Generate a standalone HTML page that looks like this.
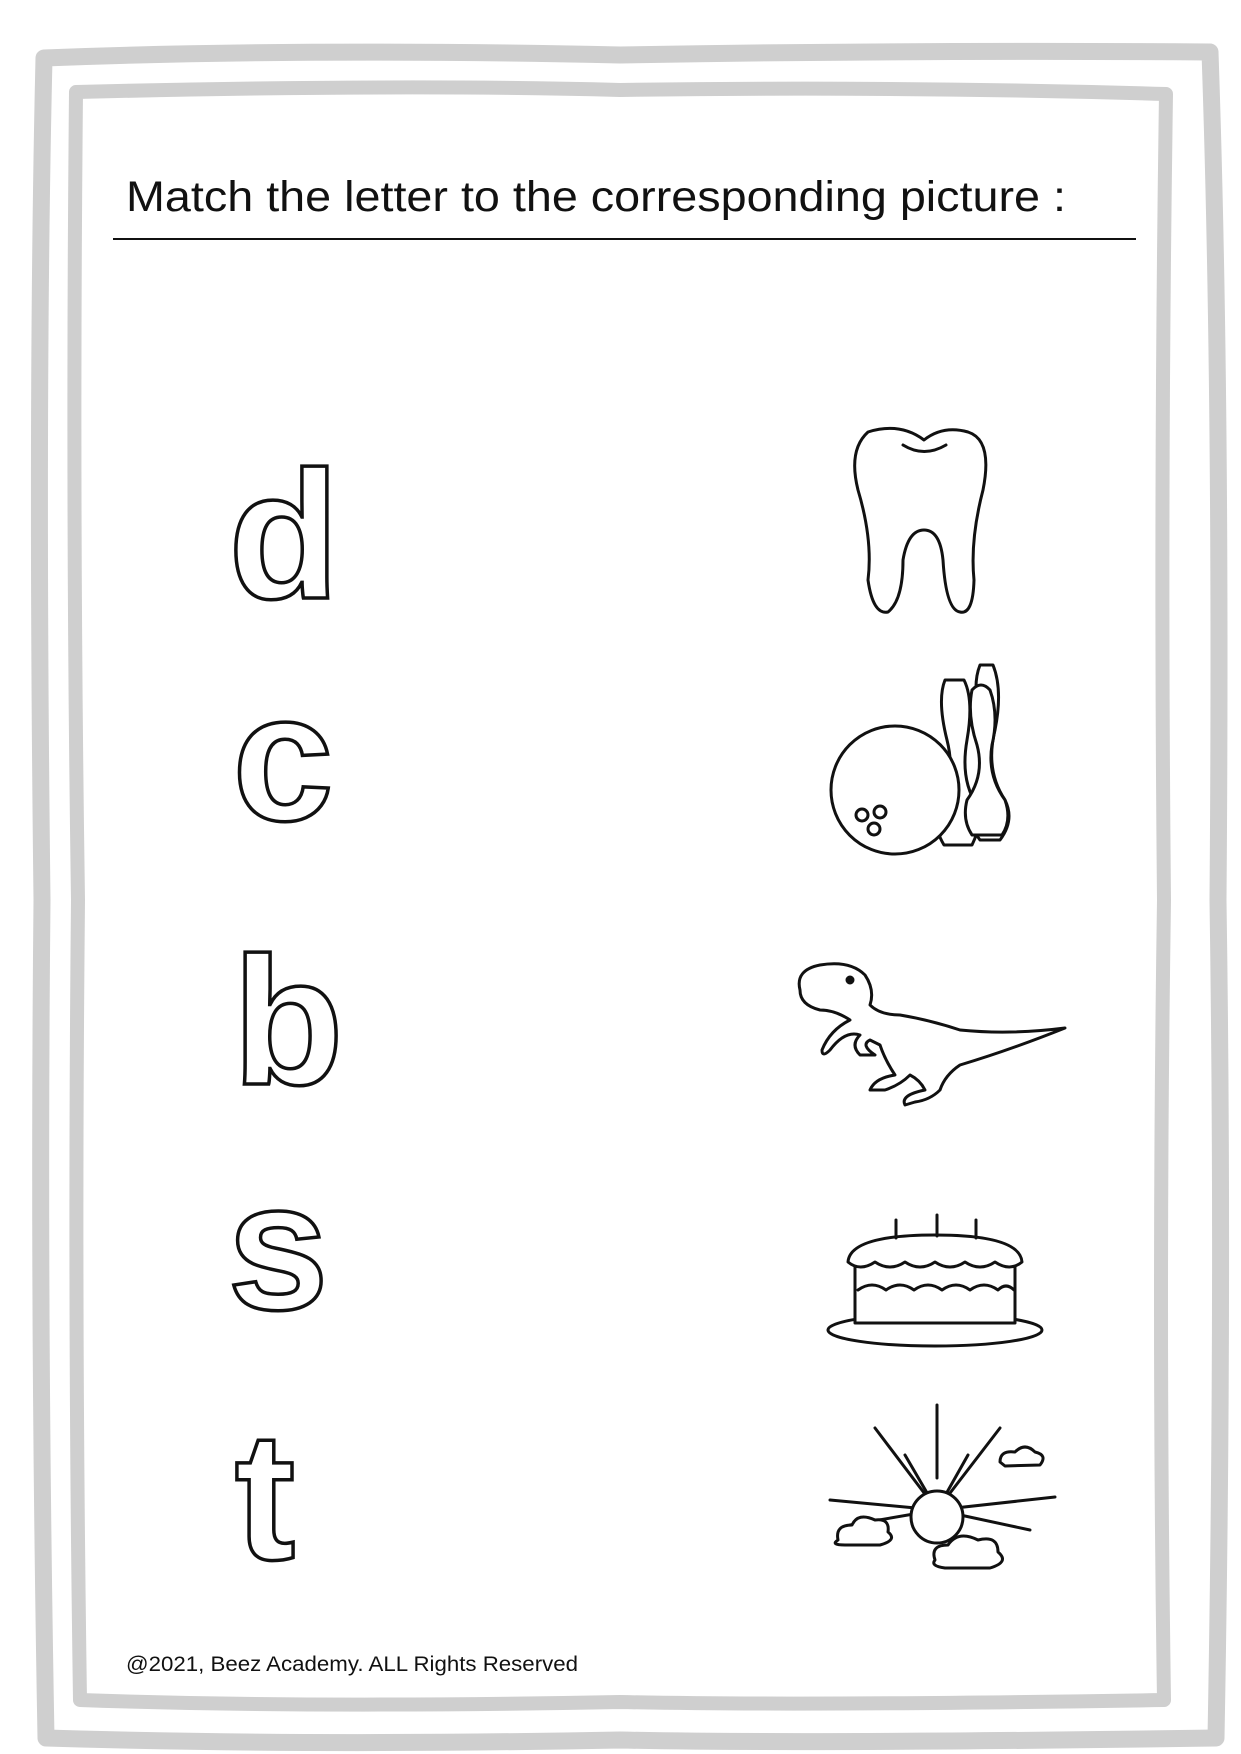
<!DOCTYPE html>
<html><head><meta charset="utf-8"><style>
html,body{margin:0;padding:0;background:#fff}
body{width:1241px;height:1754px;position:relative;overflow:hidden;font-family:"Liberation Sans",sans-serif}
svg{position:absolute;left:0;top:0}
</style></head><body>
<svg width="1241" height="1754" viewBox="0 0 1241 1754">
<g fill="none" stroke="#cfcfcf" stroke-width="17" stroke-linejoin="round">
<path d="M44 58 Q300 48 620 55 Q900 50 1210 52 Q1222 400 1218 900 Q1224 1300 1216 1738 Q800 1744 620 1740 Q300 1746 46 1738 Q38 1300 42 900 Q36 400 44 58 Z"/>
</g>
<g fill="none" stroke="#cfcfcf" stroke-width="14" stroke-linejoin="round">
<path d="M76 92 Q400 84 620 90 Q900 86 1166 94 Q1160 500 1164 900 Q1158 1300 1164 1700 Q800 1706 620 1702 Q300 1708 80 1700 Q74 1300 78 900 Q72 500 76 92 Z"/>
</g>
<text x="126" y="211" font-size="43" fill="#111" textLength="940" lengthAdjust="spacingAndGlyphs">Match the letter to the corresponding  picture :</text>
<line x1="113" y1="239" x2="1136" y2="239" stroke="#111" stroke-width="2"/>
<g font-size="182" font-weight="bold" fill="#fff" stroke="#111" stroke-width="3.5" text-anchor="middle" font-family="Liberation Sans, sans-serif">
<text x="284" y="598">d</text>
<text x="283" y="820">c</text>
<text x="288" y="1084">b</text>
<text x="278" y="1309">s</text>
<text x="265" y="1559">t</text>
</g>
<g fill="#fff" stroke="#111" stroke-width="3" stroke-linejoin="round" stroke-linecap="round">
<g>
<path d="M868 432 Q848 450 858 490 Q873 540 868 580 Q873 615 888 612 Q903 600 903 560 Q908 530 924 530 Q940 530 943 560 Q946 610 960 612 Q973 615 974 580 Q970 540 983 490 Q993 440 968 432 Q943 425 924 440 Q900 422 868 432 Z"/>
<path d="M903 445 Q924 458 946 445" fill="none"/>
</g>
<g>
<path d="M980 665 Q970 690 985 730 Q995 770 970 800 Q965 820 980 840 L1000 840 Q1015 820 1005 800 Q985 770 995 730 Q1003 690 993 665 Z"/>
<path d="M945 680 Q937 700 947 740 Q957 780 937 805 Q932 825 944 845 L972 845 Q982 825 977 805 Q960 780 967 740 Q974 700 964 680 Z"/>
<circle cx="895" cy="790" r="64"/>
<circle cx="862" cy="815" r="6"/><circle cx="880" cy="812" r="6"/><circle cx="874" cy="829" r="6"/>
<path d="M972 690 Q967 715 977 745 Q985 775 967 800 Q962 820 972 835 L1002 835 Q1012 820 1005 800 Q987 775 992 745 Q999 715 990 690 Q981 680 972 690 Z"/>
</g>
<g>
<path d="M800 990 Q795 970 820 965 Q850 960 865 975 Q875 990 870 1005 Q880 1015 900 1015 Q930 1020 960 1030 Q1010 1035 1065 1028 Q1010 1050 960 1065 Q945 1075 940 1090 Q930 1100 915 1102 L905 1105 Q900 1095 925 1090 Q920 1080 910 1075 Q900 1085 885 1090 L870 1090 Q875 1078 895 1075 Q885 1060 880 1045 L870 1040 Q860 1045 875 1055 L860 1055 Q850 1045 860 1035 Q845 1030 830 1050 Q822 1058 822 1050 Q830 1030 850 1020 Q835 1010 820 1010 Q800 1005 800 990 Z"/>
<circle cx="850" cy="980" r="3" fill="#111"/>
</g>
<g>
<ellipse cx="935" cy="1330" rx="107" ry="16"/>
<rect x="855" y="1255" width="160" height="68"/>
<path d="M848 1262 Q850 1235 935 1235 Q1020 1235 1022 1262 Q1010 1272 995 1262 Q980 1272 965 1262 Q950 1272 935 1262 Q920 1272 905 1262 Q890 1272 875 1262 Q860 1272 848 1262 Z"/>
<path d="M858 1290 Q872 1280 886 1290 Q900 1280 914 1290 Q928 1280 942 1290 Q956 1280 970 1290 Q984 1280 998 1290 Q1006 1282 1014 1290" fill="none"/>
<line x1="896" y1="1220" x2="896" y2="1238"/><line x1="937" y1="1215" x2="937" y2="1236"/><line x1="976" y1="1220" x2="976" y2="1238"/>
</g>
<g>
<line x1="937" y1="1405" x2="937" y2="1478"/>
<line x1="937" y1="1510" x2="875" y2="1428"/><line x1="937" y1="1510" x2="1000" y2="1428"/>
<line x1="937" y1="1510" x2="905" y2="1455"/><line x1="937" y1="1510" x2="968" y2="1455"/>
<line x1="937" y1="1510" x2="830" y2="1500"/><line x1="937" y1="1510" x2="1055" y2="1497"/>
<line x1="937" y1="1510" x2="850" y2="1525"/><line x1="937" y1="1510" x2="1030" y2="1530"/>
<circle cx="937" cy="1517" r="26"/>
<path d="M838 1540 Q835 1525 852 1525 Q858 1512 875 1520 Q890 1518 888 1532 Q898 1540 880 1545 L845 1545 Q830 1545 838 1540 Z"/>
<path d="M935 1560 Q930 1545 948 1545 Q958 1530 978 1540 Q998 1535 998 1552 Q1010 1562 990 1568 L945 1568 Q930 1566 935 1560 Z"/>
<path d="M1000 1462 Q1000 1450 1015 1452 Q1025 1442 1035 1452 Q1048 1455 1040 1465 L1005 1466 Z"/>
</g>
</g>
<text x="126" y="1671" font-size="21" fill="#111" textLength="452" lengthAdjust="spacingAndGlyphs">@2021, Beez Academy. ALL Rights Reserved</text>
</svg>
</body></html>
